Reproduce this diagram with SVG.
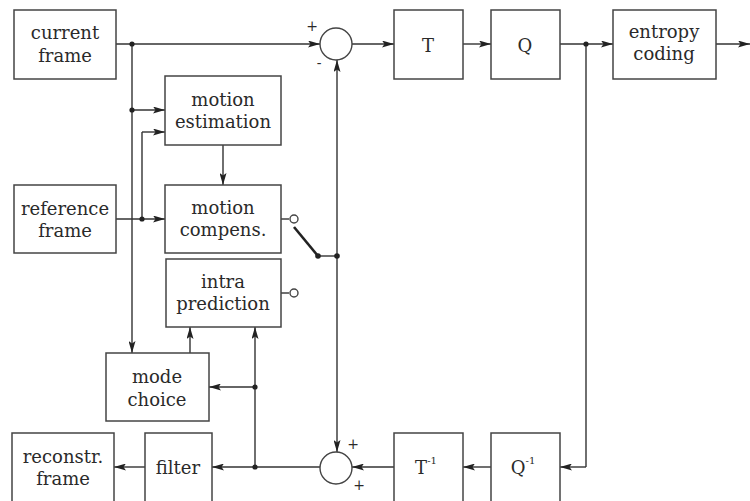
<svg xmlns="http://www.w3.org/2000/svg" width="750" height="501" viewBox="0 0 750 501">
<defs>
<marker id="ah" viewBox="0 0 12 7" refX="12" refY="3.5" markerWidth="12" markerHeight="7" markerUnits="userSpaceOnUse" orient="auto">
<path d="M0,0 L12,3.5 L0,7 L2.5,3.5 Z" fill="#222"/>
</marker>
<style>
.box{fill:#fff;stroke:#444;stroke-width:1.5}
.ln{fill:none;stroke:#333;stroke-width:1.4}
.ar{fill:none;stroke:#333;stroke-width:1.4;marker-end:url(#ah)}
.dot{fill:#222}
.oc{fill:#fff;stroke:#444;stroke-width:1.4}
text{font-family:"DejaVu Serif","Liberation Serif",serif;font-size:18px;fill:#2a2a2a;text-anchor:middle}
.sm{font-size:14px}
.sup{font-size:10px}
</style>
</defs>
<rect width="750" height="501" fill="#fff"/>
<g id="connectors">
<path class="ar" d="M116,44 H320"/>
<path class="ar" d="M352,44 H394"/>
<path class="ar" d="M463,44 H491"/>
<path class="ar" d="M560,44 H613"/>
<path class="ar" d="M716,44 H750"/>
<path class="ln" d="M132,44 V300"/>
<path class="ar" d="M132,300 V353"/>
<path class="ar" d="M132,110 H165"/>
<path class="ln" d="M142,219 V132"/>
<path class="ar" d="M142,132 H165"/>
<path class="ar" d="M116,219 H165"/>
<path class="ar" d="M223,145 V185"/>
<path class="ln" d="M281,219 H289"/>
<path class="ln" d="M281,293 H289"/>
<path d="M294,227 L318,256" fill="none" stroke="#222" stroke-width="2.6"/>
<path class="ln" d="M318,256 H337"/>
<path class="ar" d="M337,256 V60"/>
<path class="ar" d="M337,256 V452"/>
<path class="ar" d="M190,353 V327"/>
<path class="ar" d="M255,467 V327"/>
<path class="ar" d="M255,387 H209"/>
<path class="ar" d="M320,467 H212"/>
<path class="ar" d="M145,467 H114"/>
<path class="ln" d="M586,44 V467"/>
<path class="ar" d="M586,467 H560"/>
<path class="ar" d="M491,467 H463"/>
<path class="ar" d="M394,467 H352"/>
<circle class="dot" cx="132" cy="44" r="2.6"/>
<circle class="dot" cx="132" cy="110" r="2.6"/>
<circle class="dot" cx="142" cy="219" r="2.6"/>
<circle class="dot" cx="318" cy="256" r="2.8"/>
<circle class="dot" cx="337" cy="256" r="2.8"/>
<circle class="dot" cx="255" cy="387" r="2.6"/>
<circle class="dot" cx="255" cy="467" r="2.6"/>
<circle class="dot" cx="586" cy="44" r="2.6"/>
<circle class="oc" cx="294" cy="219" r="4"/>
<circle class="oc" cx="294" cy="293" r="4"/>
</g>
<g id="current-frame"><rect class="box" x="14" y="10" width="102" height="69"/><text x="65" y="39">current</text><text x="65" y="62">frame</text></g>
<g id="motion-estimation"><rect class="box" x="165" y="76" width="116" height="69"/><text x="223" y="106">motion</text><text x="223" y="128">estimation</text></g>
<g id="reference-frame"><rect class="box" x="14" y="185" width="102" height="68"/><text x="65" y="215">reference</text><text x="65" y="237">frame</text></g>
<g id="motion-compens"><rect class="box" x="165" y="185" width="116" height="68"/><text x="223" y="214">motion</text><text x="223" y="236">compens.</text></g>
<g id="intra-prediction"><rect class="box" x="166" y="259" width="115" height="68"/><text x="223" y="288">intra</text><text x="223" y="310">prediction</text></g>
<g id="mode-choice"><rect class="box" x="106" y="353" width="103" height="68"/><text x="157" y="383">mode</text><text x="157" y="406">choice</text></g>
<g id="sum-top"><circle class="oc" cx="336" cy="44" r="16"/><text class="sm" x="312" y="31">+</text><text class="sm" x="319" y="68">-</text></g>
<g id="T"><rect class="box" x="394" y="10" width="69" height="69"/><text x="428" y="52">T</text></g>
<g id="Q"><rect class="box" x="491" y="10" width="69" height="69"/><text x="525" y="52">Q</text></g>
<g id="entropy-coding"><rect class="box" x="613" y="10" width="103" height="69"/><text x="664" y="38">entropy</text><text x="664" y="60">coding</text></g>
<g id="sum-bottom"><circle class="oc" cx="336" cy="468" r="16"/><text class="sm" x="353" y="449">+</text><text class="sm" x="359" y="490">+</text></g>
<g id="T-inv"><rect class="box" x="394" y="433" width="69" height="80"/><text x="426" y="474">T<tspan class="sup" dy="-10">-1</tspan></text></g>
<g id="Q-inv"><rect class="box" x="491" y="433" width="69" height="80"/><text x="523" y="474">Q<tspan class="sup" dy="-10">-1</tspan></text></g>
<g id="filter"><rect class="box" x="145" y="433" width="67" height="80"/><text x="178" y="474">filter</text></g>
<g id="reconstr-frame"><rect class="box" x="12" y="433" width="102" height="80"/><text x="63" y="463">reconstr.</text><text x="63" y="485">frame</text></g>
</svg>
